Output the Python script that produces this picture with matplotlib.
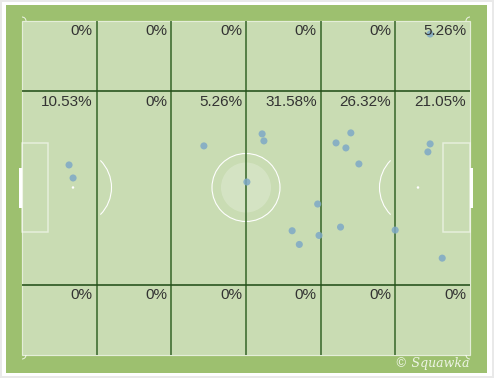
import matplotlib
matplotlib.use("Agg")
import matplotlib.pyplot as plt
from matplotlib.patches import Rectangle, Ellipse, Arc

# ---- data (pitch coords: x 0-100 along length, y 0-100 across, top=0) ----
shot_x = [10.5, 11.4, 40.6, 53.6, 54.0, 50.2, 70.1, 73.4, 72.3, 75.2,
          66.0, 60.3, 61.9, 66.3, 71.1, 83.3, 91.1, 90.6, 93.8, 91.1]
shot_y = [43.1, 47.0, 37.4, 33.8, 35.9, 48.2, 36.5, 33.5, 38.0, 42.8,
          54.8, 62.8, 66.9, 64.2, 61.7, 62.6, 36.8, 39.2, 71.0, 3.9]
zone_cols = 6
row_edges = [0, 21, 79, 100]
pct_top = ["0%", "0%", "0%", "0%", "0%", "5.26%"]
pct_mid = ["10.53%", "0%", "5.26%", "31.58%", "26.32%", "21.05%"]
pct_bot = ["0%", "0%", "0%", "0%", "0%", "0%"]

# ---- geometry: pitch occupies px x 22..470, y 21..355 ----
W, H = 494, 378
PX0, PY0, PW, PH = 22, 21, 448, 334
sx, sy = PW / 100.0, PH / 100.0   # px per unit

def ux(p):  # px length -> data x
    return p / sx

def uy(p):
    return p / sy

def dx(px):  # px position -> data x
    return (px - PX0) / sx

def dy(py):
    return (py - PY0) / sy

fig = plt.figure(figsize=(W / 100, H / 100), dpi=100)
fig.patch.set_facecolor("#e9e9e9")
ax = fig.add_axes([0, 0, 1, 1])
ax.set_xlim(dx(0), dx(W))
ax.set_ylim(dy(H), dy(0))
ax.axis("off")

PT = 0.72  # points per pixel

# frame
ax.add_patch(Rectangle((dx(2), dy(2)), ux(490), uy(374), facecolor="white", edgecolor="none", zorder=0))
ax.add_patch(Rectangle((dx(6), dy(5)), ux(481), uy(368), facecolor="#9dc06f", edgecolor="none", zorder=1))
ax.add_patch(Rectangle((0, 0), 100, 100, facecolor="#c9dcb3", edgecolor="#e4eed8", lw=1.2 * PT, zorder=2))

# pitch markings
wl = dict(color="white", zorder=3)
# penalty boxes
ax.add_patch(Rectangle((0, dy(143)), ux(26), uy(89), fill=False, edgecolor="white", alpha=0.55, lw=1.5 * PT, zorder=3))
ax.add_patch(Rectangle((100 - ux(27), dy(143)), ux(27), uy(89), fill=False, edgecolor="white", alpha=0.55, lw=1.5 * PT, zorder=3))
# goals
ax.add_patch(Rectangle((-ux(3), dy(168)), ux(3), uy(40), facecolor="white", edgecolor="none", zorder=3))
ax.add_patch(Rectangle((100, dy(168)), ux(3), uy(40), facecolor="white", edgecolor="none", zorder=3))
# penalty spots
ax.add_patch(Ellipse((dx(73), dy(187.5)), ux(2.5), uy(2.5), facecolor="white", edgecolor="none", zorder=3))
ax.add_patch(Ellipse((dx(418), dy(187.5)), ux(2.5), uy(2.5), facecolor="white", edgecolor="none", zorder=3))
# D arcs
r = 38.5
ax.add_patch(Arc((dx(73), dy(187.5)), ux(2 * r), uy(2 * r), theta1=-53, theta2=53, edgecolor="white", lw=1.1 * PT, zorder=3))
ax.add_patch(Arc((dx(418), dy(187.5)), ux(2 * r), uy(2 * r), theta1=127, theta2=233, edgecolor="white", lw=1.1 * PT, zorder=3))
# centre circle + faint logo
ax.add_patch(Ellipse((50, dy(187.5)), ux(68), uy(68), fill=False, edgecolor="white", lw=1.1 * PT, zorder=3))
ax.add_patch(Ellipse((50, dy(187.5)), ux(50), uy(50), facecolor="white", edgecolor="none", alpha=0.22, zorder=3))
# corner arcs
for cx, cy, t1, t2 in [(0, 0, 270, 360), (100, 0, 180, 270), (0, 100, 0, 90), (100, 100, 90, 180)]:
    ax.add_patch(Arc((cx, cy), ux(8), uy(8), theta1=t1, theta2=t2, edgecolor="white", lw=1 * PT, alpha=0.8, zorder=3))

# zone grid
for i in range(1, zone_cols):
    ax.plot([100 * i / zone_cols] * 2, [0, 100], color="#3b6a2e", lw=1.6 * PT, zorder=4, solid_capstyle="butt")
for e in row_edges[1:-1]:
    ax.plot([0, 100], [e, e], color="#24501a", lw=1.6 * PT, zorder=4, solid_capstyle="butt")

# percentages
for row, labels in enumerate([pct_top, pct_mid, pct_bot]):
    top = row_edges[row]
    for c, lab in enumerate(labels):
        xr = 100 * (c + 1) / zone_cols - ux(4)
        ax.text(xr, top + uy(3.5), lab, ha="right", va="top", fontsize=11,
                family="Liberation Sans", color="#333333", zorder=6)

# shots
ax.scatter(shot_x, shot_y, s=26, color="#7ea9c6", alpha=0.85, edgecolors="none", zorder=5)

# watermark
ax.text(dx(469), dy(364), "© Squawka", ha="right", va="center", fontsize=9,
        family="DejaVu Serif", style="italic", color="#eef5e6", zorder=6)

fig.savefig("out.png", dpi=100, facecolor=fig.get_facecolor())
